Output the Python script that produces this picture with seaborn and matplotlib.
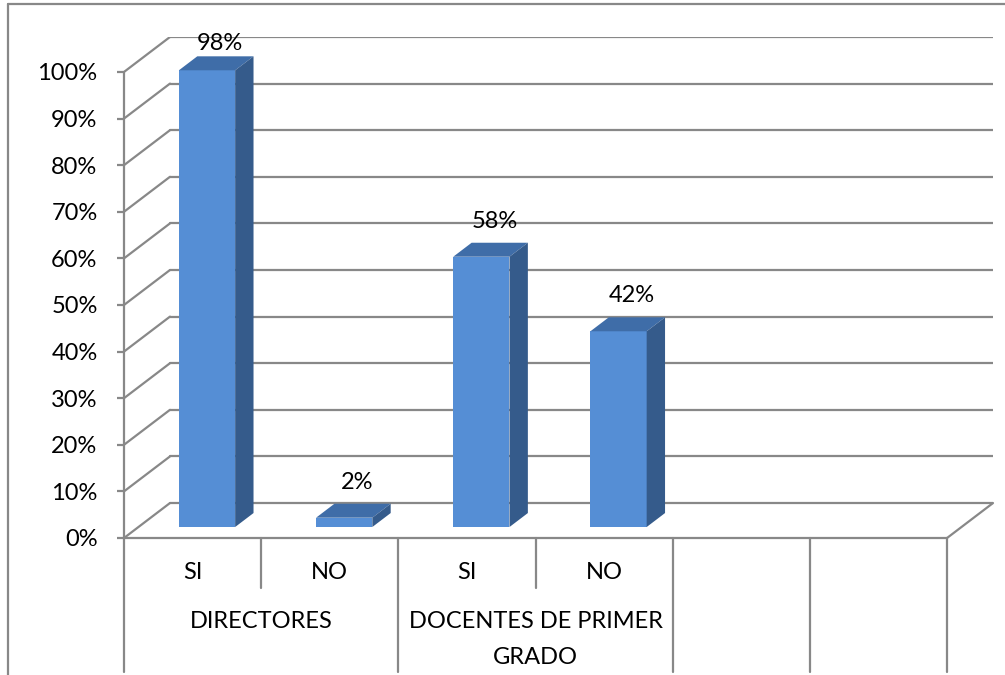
import matplotlib
matplotlib.use("Agg")
import matplotlib.pyplot as plt
from matplotlib.patches import Polygon
from matplotlib.lines import Line2D
import seaborn as sns
import pandas as pd

# ---- data ----
answers = ["SI", "NO", "SI", "NO"]
values = [98, 2, 58, 42]
group_labels = ["DIRECTORES", "DOCENTES DE PRIMER\nGRADO"]
yticks = [0, 10, 20, 30, 40, 50, 60, 70, 80, 90, 100]

# ---- style ----
sns.set_theme(style="white")
plt.rcParams["font.family"] = ["Lato", "DejaVu Sans"]
FS = 17
GRID = "#888888"
FRONT = "#558ED5"
TOP = "#3F6DA8"
SIDE = "#355B8B"

n_slots = 6
DX, DY = 0.335, 7.5       # full depth offset in data units
D1, D2 = 0.314, 0.714     # bar front / back depth fraction

fig = plt.figure(figsize=(10.05, 6.75), dpi=100)
W, H = 1005, 675
ax = fig.add_axes([124 / W, 1 - 538 / H, (993 - 124) / W, (538 - 37) / H])

slot_names = [f"{a}_{i}" for i, a in enumerate(answers)]
df = pd.DataFrame({"slot": slot_names, "value": values})
order = slot_names + ["e1", "e2"]
sns.barplot(data=df, x="slot", y="value", order=order, color=FRONT,
            width=0.41, saturation=1, ax=ax, zorder=3)

ax.set_xlim(-0.5, n_slots - 0.5 + DX)
ax.set_ylim(0, 100 + DY)

# walls / grid
for t in yticks:
    ax.plot([-0.5 + DX, n_slots - 0.5 + DX], [t + DY, t + DY], color=GRID, lw=1.6, zorder=1)
    ax.plot([-0.5, -0.5 + DX], [t, t + DY], color=GRID, lw=1.6, zorder=1)
ax.plot([-0.5, n_slots - 0.5], [0, 0], color=GRID, lw=1.6, zorder=1, clip_on=False)
ax.plot([n_slots - 0.5, n_slots - 0.5 + DX], [0, DY], color=GRID, lw=1.6, zorder=1, clip_on=False)

# 3D bars
for p, v in zip(list(ax.patches), values):
    x0 = p.get_x() + D1 * DX
    w = p.get_width()
    p.set_x(x0)
    p.set_y(D1 * DY)
    p.set_edgecolor("none")
    b = D1 * DY
    h = v + b
    ddx, ddy = (D2 - D1) * DX, (D2 - D1) * DY
    ax.add_patch(Polygon([[x0, h], [x0 + w, h], [x0 + w + ddx, h + ddy], [x0 + ddx, h + ddy]],
                         closed=True, facecolor=TOP, edgecolor="none", zorder=3, clip_on=False))
    ax.add_patch(Polygon([[x0 + w, b], [x0 + w + ddx, b + ddy], [x0 + w + ddx, h + ddy], [x0 + w, h]],
                         closed=True, facecolor=SIDE, edgecolor="none", zorder=3, clip_on=False))
    cx = x0 - D1 * DX + w / 2 + 0.2
    ax.text(cx, min(v + 10, 106), f"{v}%", ha="center", va="center", fontsize=FS,
            color="black", zorder=5, clip_on=False)

# y axis
for s in ["top", "right", "bottom"]:
    ax.spines[s].set_visible(False)
ax.spines["left"].set_bounds(0, 100)
ax.spines["left"].set_color(GRID)
ax.spines["left"].set_linewidth(1.6)
ax.set_yticks(yticks)
ax.set_yticklabels([f"{t}%" for t in yticks], fontsize=FS, color="black")
ax.tick_params(axis="y", left=True, length=5, width=1.6, color=GRID, pad=14)
ax.set_xticks([])
ax.set_xlabel("")
ax.set_ylabel("")
ax.grid(False)

# category table below
y_short, y_full = -10.7, -28.8
for xb in [-0.5, 1.5, 3.5, 4.5, 5.5]:
    ax.plot([xb, xb], [0, y_full], color=GRID, lw=1.6, clip_on=False)
for xb in [0.5, 2.5]:
    ax.plot([xb, xb], [0, y_short], color=GRID, lw=1.6, clip_on=False)
for i, a in enumerate(answers):
    ax.text(i, -7.5, a, ha="center", va="center", fontsize=FS, color="black", clip_on=False)
for g, lab in enumerate(group_labels):
    for k, line in enumerate(lab.split("\n")):
        ax.text(2 * g + 0.5, -18.0 - 7.7 * k, line, ha="center", va="center",
                fontsize=FS, color="black", clip_on=False)

# outer border
fig.add_artist(Line2D([8 / W, 8 / W], [0, 1 - 4 / H], color=GRID, lw=1.6))
fig.add_artist(Line2D([8 / W, 1], [1 - 4 / H, 1 - 4 / H], color=GRID, lw=1.6))

fig.savefig("out.png", dpi=100, facecolor="white")
